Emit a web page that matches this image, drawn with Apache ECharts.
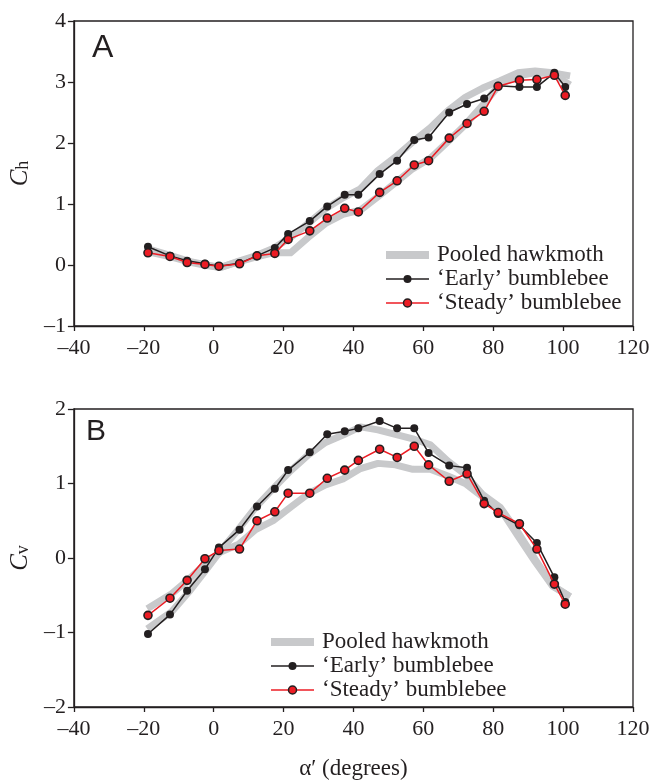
<!DOCTYPE html>
<html><head><meta charset="utf-8">
<script src="https://cdn.jsdelivr.net/npm/echarts@6/dist/echarts.min.js"></script>
<style>html,body{margin:0;padding:0;background:#fff}#c{width:668px;height:781px}</style>
</head><body><div id="c"></div>
<script>
// x-axis ticks
const xTicks = [-40, -20, 0, 20, 40, 60, 80, 100, 120];
const chTicks = [-1, 0, 1, 2, 3, 4];
const cvTicks = [-2, -1, 0, 1, 2];

// bumblebee stroke-angle positions (degrees)
const beeX = [-18.8, -12.5, -7.6, -2.5, 1.5, 7.4, 12.4, 17.5, 21.3, 27.5, 32.5, 37.5, 41.4, 47.5, 52.5, 57.4, 61.5, 67.4, 72.5, 77.4, 81.4, 87.5, 92.5, 97.5, 100.6];
// hawkmoth band positions (degrees)
const hmX = [-19, -12, -7, -2, 2, 7, 12, 17, 22, 27, 32, 37, 42, 47, 52, 57, 62, 67, 72, 77, 82, 87, 92, 97, 102];

// Panel A: Ch
const chEarly = [0.30, 0.15, 0.07, 0.02, -0.02, 0.03, 0.15, 0.28, 0.51, 0.72, 0.96, 1.15, 1.15, 1.49, 1.71, 2.05, 2.09, 2.50, 2.64, 2.73, 2.94, 2.92, 2.92, 3.15, 2.92];
const chSteady = [0.20, 0.14, 0.04, 0.01, -0.02, 0.02, 0.15, 0.19, 0.42, 0.56, 0.77, 0.93, 0.87, 1.19, 1.38, 1.64, 1.71, 2.08, 2.32, 2.52, 2.93, 3.03, 3.04, 3.11, 2.78];
const chHmUpper = [0.27, 0.15, 0.06, 0.00, -0.04, 0.06, 0.15, 0.27, 0.45, 0.68, 0.92, 1.10, 1.25, 1.55, 1.77, 2.02, 2.25, 2.53, 2.75, 2.90, 3.02, 3.15, 3.18, 3.15, 3.10];
const chHmLower = [0.22, 0.13, 0.05, -0.01, -0.04, 0.05, 0.13, 0.20, 0.20, 0.45, 0.68, 0.83, 0.90, 1.12, 1.35, 1.58, 1.75, 2.02, 2.30, 2.62, 2.97, 3.10, 3.15, 3.13, 2.95];

// Panel B: Cv
const cvEarly = [-1.02, -0.76, -0.44, -0.15, 0.14, 0.38, 0.69, 0.93, 1.18, 1.42, 1.66, 1.70, 1.74, 1.84, 1.74, 1.74, 1.41, 1.24, 1.21, 0.77, 0.59, 0.44, 0.20, -0.26, -0.59];
const cvSteady = [-0.77, -0.54, -0.30, -0.01, 0.10, 0.12, 0.50, 0.62, 0.87, 0.87, 1.07, 1.18, 1.31, 1.46, 1.35, 1.50, 1.25, 1.03, 1.13, 0.73, 0.61, 0.46, 0.12, -0.35, -0.62];
const cvHmUpper = [-0.95, -0.72, -0.45, -0.15, 0.10, 0.38, 0.68, 0.93, 1.17, 1.38, 1.55, 1.65, 1.76, 1.72, 1.66, 1.60, 1.52, 1.30, 1.12, 0.85, 0.68, 0.35, -0.02, -0.37, -0.52];
const cvHmLower = [-0.68, -0.48, -0.28, -0.06, 0.08, 0.18, 0.38, 0.50, 0.68, 0.86, 0.98, 1.06, 1.20, 1.27, 1.25, 1.19, 1.19, 1.10, 1.00, 0.82, 0.66, 0.30, -0.05, -0.38, -0.52];

const names = ['Pooled hawkmoth', '\u2018Early\u2019 bumblebee', '\u2018Steady\u2019 bumblebee'];

const zip = (xs, ys) => xs.map((x, i) => [x, ys[i]]);
const INK = '#231f20';
const GRAY = '#c8c9cb';
const RED = '#ec1c24';
const SERIF = '"Liberation Serif", "Times New Roman", serif';
const SANS = '"Liberation Sans", Arial, sans-serif';
const fmt = v => (v < 0 ? '\u2013' + Math.abs(v) : String(v));

function xAxis(gi) {
  return {
    type: 'value', gridIndex: gi, min: xTicks[0], max: xTicks[xTicks.length - 1], interval: 20,
    axisLine: { show: true, onZero: false, lineStyle: { color: INK, width: 1.3 } },
    axisTick: { show: true, inside: false, length: 5, lineStyle: { color: INK, width: 1.3 } },
    axisLabel: { fontFamily: SERIF, fontSize: 22, color: INK, margin: 11, formatter: fmt },
    splitLine: { show: false },
    name: gi === 1 ? '\u03b1\u2032 (degrees)' : '',
    nameLocation: 'middle', nameGap: 50,
    nameTextStyle: { fontFamily: SERIF, fontSize: 23, color: INK }
  };
}
function yAxis(gi, ticks, sub) {
  return {
    type: 'value', gridIndex: gi, min: ticks[0], max: ticks[ticks.length - 1], interval: 1,
    axisLine: { show: true, onZero: false, lineStyle: { color: INK, width: 1.3 } },
    axisTick: { show: true, inside: false, length: 6, lineStyle: { color: INK, width: 1.3 } },
    axisLabel: { fontFamily: SERIF, fontSize: 22, color: INK, margin: 8, formatter: fmt },
    splitLine: { show: false },
    name: '{c|C}{h|' + sub + '}', nameLocation: 'middle', nameGap: 38, nameRotate: 90,
    nameTextStyle: {
      color: INK,
      rich: {
        c: { fontFamily: SERIF, fontStyle: 'italic', fontSize: 25, color: INK },
        h: { fontFamily: SERIF, fontSize: 18, color: INK, padding: [6, 0, 0, 0] }
      }
    }
  };
}
function band(name, gi, ys) {
  return { name, type: 'line', xAxisIndex: gi, yAxisIndex: gi, data: zip(hmX, ys), symbol: 'none',
    lineStyle: { color: GRAY, width: 7, join: 'round', cap: 'butt' }, itemStyle: { color: GRAY }, z: 1, silent: true, animation: false };
}
function early(gi, ys) {
  return { name: names[1], type: 'line', xAxisIndex: gi, yAxisIndex: gi, data: zip(beeX, ys), symbol: 'circle', symbolSize: 8,
    itemStyle: { color: INK }, lineStyle: { color: INK, width: 1.5 }, z: 3, animation: false };
}
function steady(gi, ys) {
  return { name: names[2], type: 'line', xAxisIndex: gi, yAxisIndex: gi, data: zip(beeX, ys), symbol: 'circle', symbolSize: 8,
    itemStyle: { color: RED, borderColor: INK, borderWidth: 1.6 }, lineStyle: { color: RED, width: 1.5 }, z: 4, animation: false };
}
function legend(left, top) {
  return {
    orient: 'vertical', left, top, itemWidth: 43, itemHeight: 10, itemGap: 0, padding: 0,
    textStyle: { fontFamily: SERIF, fontSize: 23, color: INK, lineHeight: 24, padding: [0, 0, 0, 3] },
    data: [
      { name: names[0], lineStyle: { width: 8, color: GRAY }, itemStyle: { color: GRAY, borderWidth: 0 } },
      { name: names[1], lineStyle: { width: 1.5 } },
      { name: names[2], lineStyle: { width: 1.5 }, itemStyle: { borderColor: INK, borderWidth: 1.5 } }
    ],
    selectedMode: false
  };
}

const chart = echarts.init(document.getElementById('c'), null, { renderer: 'canvas' });
chart.setOption({
  backgroundColor: '#fff',
  animation: false,
  title: [
    { text: 'A', left: 92, top: 32, padding: 0, textStyle: { fontFamily: SANS, fontSize: 32, fontWeight: 'normal', color: INK } },
    { text: 'B', left: 86, top: 417, padding: 0, textStyle: { fontFamily: SANS, fontSize: 30, fontWeight: 'normal', color: INK } }
  ],
  grid: [
    { left: 73, top: 21, width: 560, height: 305, show: true, borderColor: INK, borderWidth: 1.3, backgroundColor: 'transparent' },
    { left: 73, top: 409, width: 560, height: 302, show: true, borderColor: INK, borderWidth: 1.3, backgroundColor: 'transparent' }
  ],
  xAxis: [xAxis(0), xAxis(1)],
  yAxis: [yAxis(0, chTicks, 'h'), yAxis(1, cvTicks, 'v')],
  legend: [legend(382, 243), legend(267, 630)],
  series: [
    band(names[0], 0, chHmUpper), band(names[0], 0, chHmLower),
    early(0, chEarly), steady(0, chSteady),
    band(names[0], 1, cvHmUpper), band(names[0], 1, cvHmLower),
    early(1, cvEarly), steady(1, cvSteady)
  ]
});
</script>
</body></html>
